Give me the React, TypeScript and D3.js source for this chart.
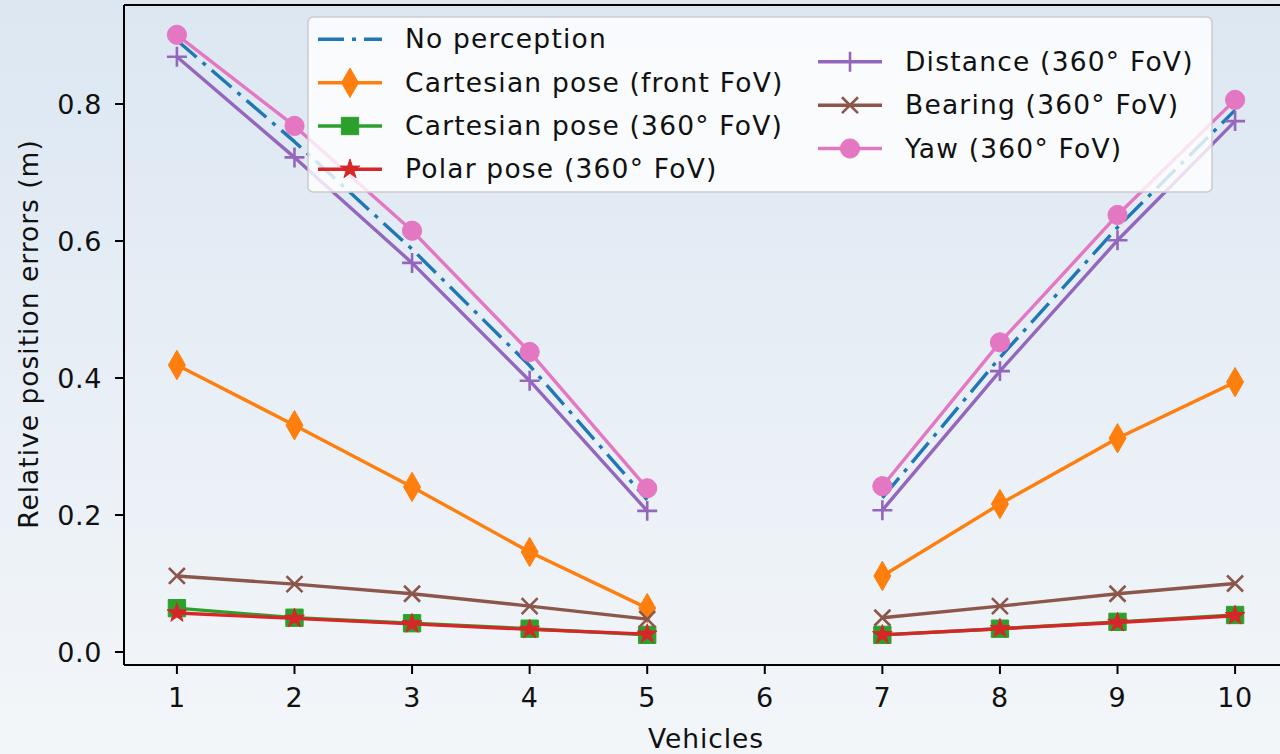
import * as d3 from "d3";

const vehicles = [1, 2, 3, 4, 5, 6, 7, 8, 9, 10];
const xTicks = [1, 2, 3, 4, 5, 6, 7, 8, 9, 10];
const yTicks = [0.0, 0.2, 0.4, 0.6, 0.8];

const noPerception = [0.893, 0.745, 0.588, 0.418, 0.222, null, 0.225, 0.43, 0.62, 0.791];
const cartFront = [0.419, 0.331, 0.241, 0.146, 0.064, null, 0.111, 0.216, 0.312, 0.394];
const cart360 = [0.064, 0.05, 0.042, 0.034, 0.025, null, 0.025, 0.034, 0.044, 0.054];
const polar360 = [0.057, 0.049, 0.041, 0.033, 0.026, null, 0.025, 0.034, 0.043, 0.053];
const distance360 = [0.869, 0.722, 0.568, 0.396, 0.206, null, 0.207, 0.41, 0.601, 0.775];
const bearing360 = [0.111, 0.099, 0.085, 0.067, 0.048, null, 0.05, 0.067, 0.085, 0.1];
const yaw360 = [0.901, 0.768, 0.615, 0.438, 0.239, null, 0.242, 0.452, 0.638, 0.806];

type Series = {
  name: string;
  values: (number | null)[];
  color: string;
  marker: "none" | "diamond" | "square" | "star" | "plus" | "times" | "circle";
  dash?: string;
};

const series: Series[] = [
  { name: "No perception", values: noPerception, color: "#1f77b4", marker: "none", dash: "26,8,4,8" },
  { name: "Cartesian pose (front FoV)", values: cartFront, color: "#ff7f0e", marker: "diamond" },
  { name: "Cartesian pose (360° FoV)", values: cart360, color: "#2ca02c", marker: "square" },
  { name: "Polar pose (360° FoV)", values: polar360, color: "#d62728", marker: "star" },
  { name: "Distance (360° FoV)", values: distance360, color: "#9467bd", marker: "plus" },
  { name: "Bearing (360° FoV)", values: bearing360, color: "#8c564b", marker: "times" },
  { name: "Yaw (360° FoV)", values: yaw360, color: "#e377c2", marker: "circle" },
];

const W = 1280;
const H = 754;
const FONT = "DejaVu Sans, sans-serif";

const x = d3.scaleLinear().domain([0.55, 10.45]).range([124, 1288]);
const y = d3.scaleLinear().domain([-0.019, 0.9445]).range([665, 5]);

const symbols = {
  diamond: d3.symbol(d3.symbolDiamond, 250)(),
  square: d3.symbol(d3.symbolSquare, 300)(),
  star: d3.symbol(d3.symbolStar, 120)(),
  plus: d3.symbol(d3.symbolPlus, 132)(),
  times: d3.symbol(d3.symbolTimes, 168)(),
  circle: d3.symbol(d3.symbolCircle, 290)(),
};

function Marker({ s, cx, cy }: { s: Series; cx: number; cy: number }) {
  if (s.marker === "none") return null;
  const stroked = s.marker === "plus" || s.marker === "times";
  return (
    <path
      d={symbols[s.marker] as string}
      transform={`translate(${cx},${cy})`}
      fill={stroked ? "none" : s.color}
      stroke={s.color}
      strokeWidth={stroked ? 2.6 : 1}
    />
  );
}

export default function App() {
  const line = d3
    .line<number | null>()
    .defined((d) => d != null)
    .x((_, i) => x(vehicles[i]))
    .y((d) => y(d as number));

  const rowsLeft = [39.3, 82.7, 126, 169.3];
  const legendPos = series.map((s, i) =>
    i < 4 ? { lx: 318, ty: rowsLeft[i] } : { lx: 818, ty: rowsLeft[i - 4] + 22.5 }
  );

  return (
    <svg
      width={W}
      height={H}
      style={{ position: "fixed", left: 0, top: 0, display: "block" }}
      fontFamily={FONT}
    >
      <defs>
        <linearGradient id="bg" x1="0" y1="0" x2="0" y2="1">
          <stop offset="0" stopColor="#dce7f2" />
          <stop offset="1" stopColor="#f3f6f9" />
        </linearGradient>
      </defs>
      <rect x={0} y={0} width={W} height={H} fill="url(#bg)" />

      {/* data lines */}
      {series.map((s) => (
        <g key={s.name}>
          <path
            d={line(s.values) ?? ""}
            fill="none"
            stroke={s.color}
            strokeWidth={3.4}
            strokeDasharray={s.dash}
            strokeLinejoin="round"
          />
          {s.values.map((v, i) =>
            v == null ? null : <Marker key={i} s={s} cx={x(vehicles[i])} cy={y(v)} />
          )}
        </g>
      ))}

      {/* spines */}
      <g stroke="#000" strokeWidth={2} fill="none">
        <line x1={124} x2={124} y1={5} y2={665} />
        <line x1={124} x2={1288} y1={5} y2={5} />
        <line x1={124} x2={1288} y1={665} y2={665} />
      </g>

      {/* x axis */}
      {xTicks.map((t) => (
        <g key={t} transform={`translate(${x(t)},0)`}>
          <line y1={665} y2={674} stroke="#000" strokeWidth={2} />
          <text y={707} textAnchor="middle" fontSize={27} style={{ letterSpacing: "0.6px" }} fill="#111">
            {t}
          </text>
        </g>
      ))}
      <text x={706} y={748} textAnchor="middle" fontSize={26.5} style={{ letterSpacing: "0.9px" }} fill="#111">
        Vehicles
      </text>

      {/* y axis */}
      {yTicks.map((t) => (
        <g key={t} transform={`translate(0,${y(t)})`}>
          <line x1={115} x2={124} stroke="#000" strokeWidth={2} />
          <text x={102} y={10} textAnchor="end" fontSize={27} style={{ letterSpacing: "0.6px" }} fill="#111">
            {t.toFixed(1)}
          </text>
        </g>
      ))}
      <text
        transform="translate(38,334) rotate(-90)"
        textAnchor="middle"
        fontSize={26.5}
        style={{ letterSpacing: "1px" }}
        fill="#111"
      >
        Relative position errors (m)
      </text>

      {/* legend */}
      <rect
        x={308}
        y={17}
        width={904}
        height={175}
        rx={5}
        fill="#ffffff"
        fillOpacity={0.8}
        stroke="#cccccc"
        strokeWidth={1.5}
      />
      {series.map((s, i) => {
        const { lx, ty } = legendPos[i];
        return (
          <g key={s.name}>
            <line
              x1={lx}
              x2={lx + 64}
              y1={ty}
              y2={ty}
              stroke={s.color}
              strokeWidth={3.4}
              strokeDasharray={s.dash}
            />
            <Marker s={s} cx={lx + 32} cy={ty} />
            <text x={lx + 87} y={ty + 9} fontSize={26.5} style={{ letterSpacing: "1.2px" }} fill="#111">
              {s.name}
            </text>
          </g>
        );
      })}
    </svg>
  );
}
